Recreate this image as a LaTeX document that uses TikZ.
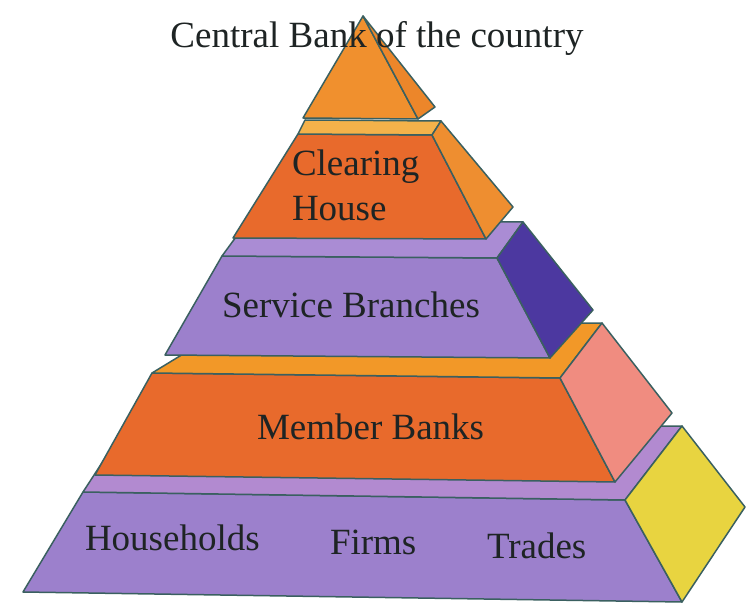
\documentclass[tikz,border=0pt]{standalone}
\usepackage{fontspec}
\setmainfont{Liberation Serif}
\definecolor{edge}{RGB}{58,96,96}
\definecolor{orFront}{RGB}{232,106,44}
\definecolor{orSide}{RGB}{238,142,48}
\definecolor{orTopLight}{RGB}{244,178,74}
\definecolor{tipFront}{RGB}{240,144,46}
\definecolor{tipSide}{RGB}{236,134,42}
\definecolor{memTop}{RGB}{242,152,40}
\definecolor{pinkSide}{RGB}{240,140,128}
\definecolor{purFront}{RGB}{156,128,204}
\definecolor{purTop}{RGB}{170,140,212}
\definecolor{purDark}{RGB}{76,56,160}
\definecolor{botTop}{RGB}{178,138,208}
\definecolor{yelSide}{RGB}{232,212,64}
\definecolor{ink}{RGB}{30,36,36}
\tikzset{
  face/.style={draw=edge, line width=1.5pt, line join=round},
  lbl/.style={inner sep=0pt, outer sep=0pt, text=ink, font=\fontsize{37}{44}\selectfont}
}
\begin{document}
\begin{tikzpicture}[x=1pt,y=-1pt]
\useasboundingbox[fill=white] (0,0) rectangle (746,609);
% bottom level
\fill[face, fill=purFront] (83,492) -- (625,500) -- (682,602) -- (23,592) -- cycle;
\fill[face, fill=botTop] (83,492) -- (625,500) -- (682,426) -- (126,426) -- cycle;
\fill[face, fill=yelSide] (625,500) -- (682,426) -- (745,507) -- (682,602) -- cycle;
% member banks
\fill[face, fill=orFront] (152,373) -- (560,378) -- (615,482) -- (95,475) -- cycle;
\fill[face, fill=memTop] (152,373) -- (560,378) -- (602,323) -- (234,323) -- cycle;
\fill[face, fill=pinkSide] (560,378) -- (602,323) -- (672,413) -- (615,482) -- cycle;
% service branches
\fill[face, fill=purFront] (222,256) -- (497,258) -- (550,358) -- (165,355) -- cycle;
\fill[face, fill=purTop] (222,256) -- (497,258) -- (523,222) -- (247,222) -- cycle;
\fill[face, fill=purDark] (497,258) -- (523,222) -- (593,310) -- (550,358) -- cycle;
% clearing house
\fill[face, fill=orFront] (298,134) -- (432,135) -- (486,239) -- (233,238) -- cycle;
\fill[face, fill=orTopLight] (298,134) -- (432,135) -- (441,121) -- (305,120) -- cycle;
\fill[face, fill=orSide] (432,135) -- (441,121) -- (513,207) -- (486,239) -- cycle;
% tip
\fill[face, fill=tipFront] (363,16) -- (418,119) -- (303,118) -- cycle;
\fill[face, fill=tipSide] (363,16) -- (435,107) -- (418,119) -- cycle;
% labels
\node[lbl, anchor=base west] (clr1) at (292,176) {Clearing};
\node[lbl, anchor=base west] (clr2) at (292,221) {House};
\node[lbl, anchor=base west] (svc) at (222,317) {Service Branches};
\node[lbl, anchor=base west] (mem) at (257,439) {Member Banks};
\node[lbl, anchor=base west] (hh) at (85,550) {Households};
\node[lbl, anchor=base west] (firms) at (330,554) {Firms};
\node[lbl, anchor=base west] (trades) at (487,558) {Trades};
\node[lbl, anchor=base] (title) at (377,48) {Central Bank of the country};
\end{tikzpicture}
\end{document}
